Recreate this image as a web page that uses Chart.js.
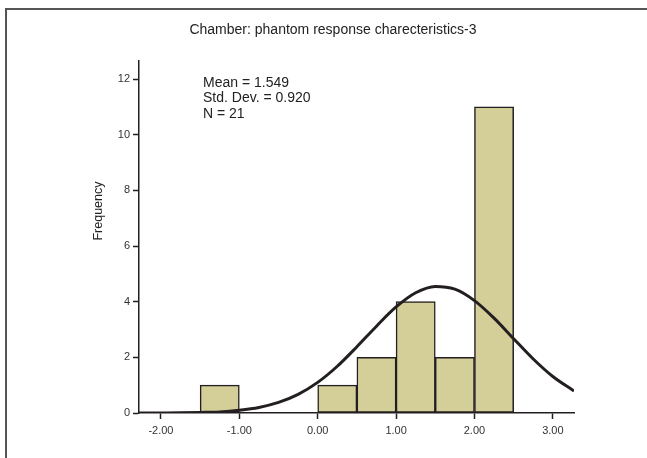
<!DOCTYPE html>
<html lang="en">
<head>
  <meta charset="UTF-8" />
  <title>Chamber: phantom response charecteristics-3</title>
  <script src="https://cdn.jsdelivr.net/npm/chart.js"></script>
  <style>
    body {
      margin: 0;
      background: #fff;
    }

    #wrap {
      width: 647px;
      height: 458px;
      position: relative;
    }
  </style>
</head>
<body>

<div id="wrap">
  <canvas id="histChart"></canvas>
</div>

<script>
  // histogram bins (width 0.5), centres and counts
  const binCenters = [-1.25, 0.25, 0.75, 1.25, 1.75, 2.25];
  const frequencies = [1, 1, 2, 4, 2, 11];

  // normal curve
  const curveX = [-2.28, -2.0, -1.75, -1.5, -1.25, -1.0, -0.75, -0.5, -0.25, 0, 0.25, 0.5, 0.75, 1.0, 1.25, 1.5, 1.75, 2.0, 2.25, 2.5, 2.75, 3.0, 3.27];
  const curveY = [0.001, 0.003, 0.007, 0.02, 0.04, 0.10, 0.20, 0.38, 0.67, 1.10, 1.68, 2.38, 3.12, 3.81, 4.32, 4.55, 4.45, 4.04, 3.41, 2.67, 1.94, 1.31, 0.79];

  const xTicks = [-2, -1, 0, 1, 2, 3];
  const yTicks = [0, 2, 4, 6, 8, 10, 12];

  const chartTitle = "Chamber: phantom response charecteristics-3";
  const yTitle = "Frequency";
  const statLines = ["Mean = 1.549", "Std. Dev. = 0.920", "N = 21"];

  const ink = "#231f20";
  const fontFamily = "Arial, 'Liberation Sans', sans-serif";

  const textPlugin = {
    id: "spssText",
    afterDraw(chart) {
      const ctx = chart.ctx;
      ctx.save();

      // frame (only top and left edges show)
      ctx.strokeStyle = "#555";
      ctx.lineWidth = 2;
      ctx.beginPath();
      ctx.moveTo(6, 458);
      ctx.lineTo(6, 9);
      ctx.lineTo(647, 9);
      ctx.stroke();

      ctx.fillStyle = "#222";
      ctx.textBaseline = "middle";

      ctx.font = "14px " + fontFamily;
      ctx.textAlign = "center";
      ctx.fillText(chartTitle, 333, 30);

      ctx.textAlign = "left";
      statLines.forEach((line, i) => {
        ctx.fillText(line, 203, 83 + i * 15.5);
      });

      ctx.save();
      ctx.translate(99, 211);
      ctx.rotate(-Math.PI / 2);
      ctx.textAlign = "center";
      ctx.font = "12.5px " + fontFamily;
      ctx.fillText(yTitle, 0, 0);
      ctx.restore();

      ctx.restore();
    }
  };

  new Chart(document.getElementById("histChart"), {
    type: "bar",
    data: {
      datasets: [
        {
          type: "line",
          data: curveX.map((x, i) => ({ x: x, y: curveY[i] })),
          borderColor: ink,
          borderWidth: 3,
          pointRadius: 0,
          tension: 0.4,
          cubicInterpolationMode: "monotone",
          order: 1
        },
        {
          data: binCenters.map((x, i) => ({ x: x, y: frequencies[i] })),
          backgroundColor: "#d4cf99",
          borderColor: ink,
          borderWidth: 1.5,
          borderSkipped: false,
          barPercentage: 1,
          categoryPercentage: 1,
          order: 2
        }
      ]
    },
    options: {
      responsive: true,
      maintainAspectRatio: false,
      animation: false,
      layout: {
        padding: { top: 61, right: 73, bottom: 0, left: 0 }
      },
      plugins: {
        legend: { display: false },
        tooltip: { enabled: false }
      },
      scales: {
        x: {
          type: "linear",
          min: -2.28,
          max: 3.27,
          offset: false,
          afterBuildTicks: scale => {
            scale.ticks = xTicks.map(v => ({ value: v }));
          },
          afterFit: scale => {
            scale.height = 45;
          },
          grid: {
            offset: false,
            drawOnChartArea: false,
            drawTicks: true,
            tickLength: 6,
            tickWidth: 1.5,
            color: ink
          },
          border: { color: ink, width: 1.5 },
          ticks: {
            padding: 5,
            color: "#333",
            font: { family: fontFamily, size: 11 },
            callback: v => v.toFixed(2)
          }
        },
        y: {
          min: 0,
          max: 12.65,
          afterBuildTicks: scale => {
            scale.ticks = yTicks.map(v => ({ value: v }));
          },
          afterFit: scale => {
            scale.width = 139;
          },
          grid: {
            drawOnChartArea: false,
            drawTicks: true,
            tickLength: 6,
            tickWidth: 1.5,
            color: ink
          },
          border: { color: ink, width: 1.5 },
          ticks: {
            padding: 3,
            color: "#333",
            font: { family: fontFamily, size: 11 }
          }
        }
      }
    },
    plugins: [textPlugin]
  });
</script>

</body>
</html>
